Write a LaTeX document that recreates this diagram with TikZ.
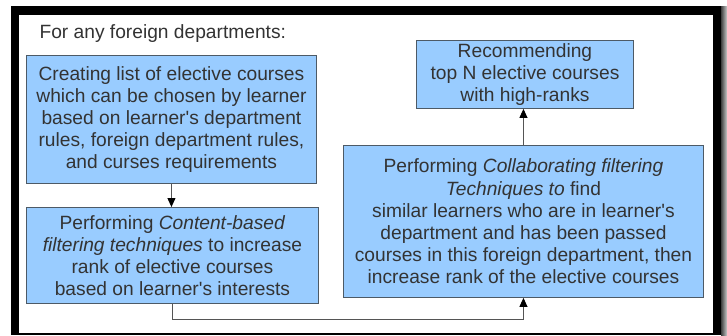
\documentclass[tikz,border=0pt]{standalone}
\usepackage{fontspec}
\setmainfont{Liberation Sans}
\usetikzlibrary{arrows.meta}
\definecolor{boxfill}{HTML}{99CCFF}
\definecolor{boxline}{HTML}{4D5A66}
\definecolor{txt}{HTML}{333333}
\definecolor{wire}{HTML}{555555}
\newcommand{\apos}{\textquotesingle}
\tikzset{
  flowbox/.style={draw=boxline, line width=0.9pt, fill=boxfill, text=txt,
    align=center, inner sep=0pt, anchor=north west,
    font=\fontsize{19.2}{22.2}\selectfont},
  flowarrow/.style={draw=wire, line width=0.9pt,
    -{Triangle[length=9pt,width=8pt,color=black,fill=black]}},
}
\begin{document}
\begin{tikzpicture}[x=1pt,y=-1pt]
  % page and black frame with a soft shadow on the right
  \fill[white] (0,0) rectangle (727,335);
  \useasboundingbox (0,0) rectangle (727,335);
  \shade[left color=black!75, right color=black!20] (721,6) rectangle (727,335);
  \fill[black] (11,6) rectangle (721,335);
  \fill[white] (19,15) rectangle (713,332.5);

  \node[anchor=base west, text=txt, font=\fontsize{19.2}{22.2}\selectfont]
    (title) at (36,38) {For any foreign departments:};

  \node[flowbox, minimum width=290pt, minimum height=128pt] (create) at (26,55)
    {Creating list of elective courses\\
     which can be chosen by learner\\
     based on learner\apos s department\\
     rules, foreign department rules,\\
     and curses requirements};

  \node[flowbox, minimum width=292pt, minimum height=96pt] (content) at (26,207)
    {Performing \textit{Content-based}\\
     \textit{filtering techniques} to increase\\
     rank of elective courses\\
     based on learner\apos s interests};

  \node[flowbox, minimum width=360pt, minimum height=152pt] (collab) at (343,145)
    {Performing \textit{Collaborating filtering}\\
     \textit{Techniques to} find\\
     similar learners who are in learner\apos s\\
     department and has been passed\\
     courses in this foreign department, then\\
     increase rank of the elective courses};

  \node[flowbox, minimum width=217pt, minimum height=68pt] (recommend) at (416,40)
    {Recommending\\
     top N elective courses\\
     with high-ranks};

  \coordinate (turnA) at ([yshift=-16pt]content.south);
  \draw[flowarrow] (create.south) -- (create.south |- content.north);
  \draw[flowarrow] (content.south) -- (turnA) -| (collab.south);
  \draw[flowarrow] (collab.north) -- (collab.north |- recommend.south);
\end{tikzpicture}
\end{document}
